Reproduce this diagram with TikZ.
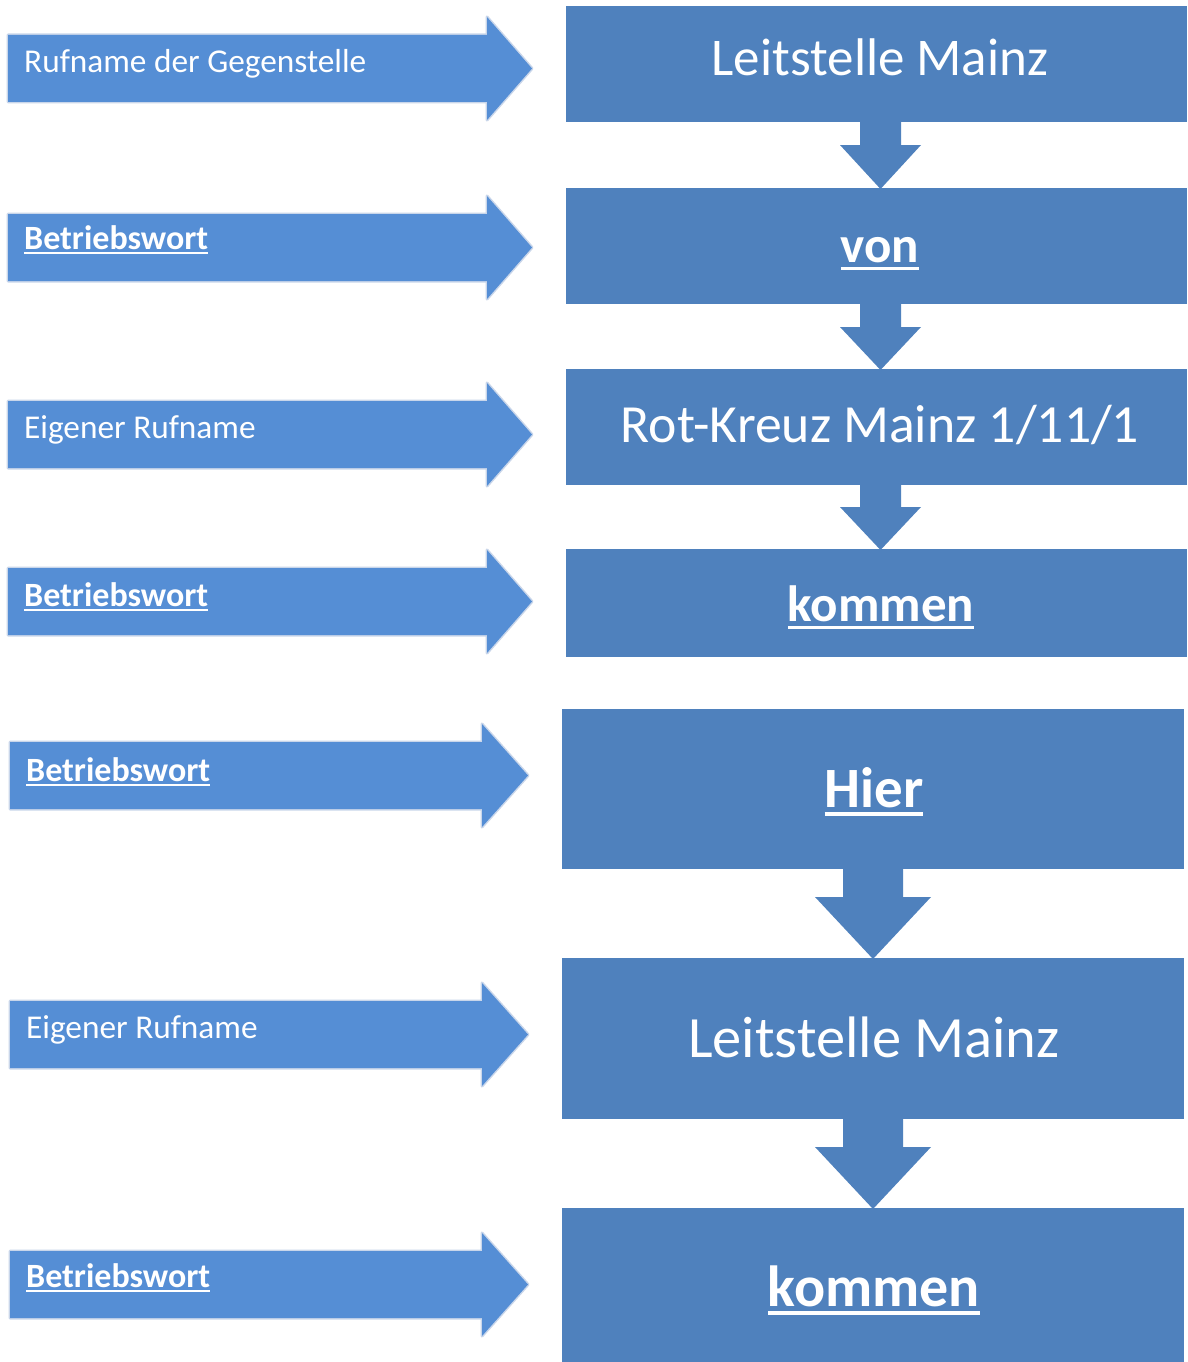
\documentclass[tikz,border=0pt]{standalone}
\usepackage{fontspec}
\setmainfont{Carlito}
\usetikzlibrary{calc}
\definecolor{boxblue}{HTML}{4F81BD}
\definecolor{arrblue}{HTML}{558ED5}
\definecolor{glow}{HTML}{C9D6EA}
\newcommand{\ulx}[1]{\setbox0\hbox{#1}\rlap{\rule[-0.15em]{\wd0}{0.06em}}\box0}
% left arrow: name, x0, ytop, xbase, xtip
\newcommand{\larr}[5]{%
  \coordinate (#1) at (#2,#3);
  \draw[glow,line width=3pt,line join=round,fill=arrblue] (#2,#3) -- (#4,#3) -- (#4,#3-18) -- (#5,#3+33.5) -- (#4,#3+85) -- (#4,#3+67) -- (#2,#3+67) -- cycle;
  \fill[arrblue] (#2,#3) -- (#4,#3) -- (#4,#3-18) -- (#5,#3+33.5) -- (#4,#3+85) -- (#4,#3+67) -- (#2,#3+67) -- cycle;}
% down arrow: from, to, xoffset, stem half, head half, head height
\newcommand{\dnarr}[6]{%
  \fill[boxblue] let \p1=([xshift=#3pt]#1.south), \p2=(#2.north) in
   (\x1-#4pt,\y1+1pt) -- (\x1+#4pt,\y1+1pt) -- (\x1+#4pt,\y2+#6pt) -- (\x1+#5pt,\y2+#6pt)
   -- (\x1,\y2-1pt) -- (\x1-#5pt,\y2+#6pt) -- (\x1-#4pt,\y2+#6pt) -- cycle;}
\tikzset{
  box/.style={rectangle,fill=boxblue,inner sep=0pt,outer sep=0pt,anchor=north west},
  btxt/.style={text=white,inner sep=0pt,anchor=base},
  ltxt/.style={text=white,inner sep=0pt,anchor=base west,font=\fontsize{33.3}{40}\selectfont},
  lbold/.style={ltxt,font=\fontsize{34}{40}\selectfont\bfseries},
}
\begin{document}
\begin{tikzpicture}[x=1pt,y=-1pt]
\useasboundingbox[fill=white] (0,0) rectangle (1187,1362);
% right boxes
\node[box,minimum width=621,minimum height=116] (b1) at (566,6) {};
\node[box,minimum width=621,minimum height=116] (b2) at (566,188) {};
\node[box,minimum width=621,minimum height=116] (b3) at (566,369) {};
\node[box,minimum width=621,minimum height=108] (b4) at (566,549) {};
\node[box,minimum width=622,minimum height=160] (b5) at (562,709) {};
\node[box,minimum width=622,minimum height=161] (b6) at (562,958) {};
\node[box,minimum width=622,minimum height=154] (b7) at (562,1208) {};
% box texts
\node[btxt,font=\fontsize{53}{64}\selectfont] (t1) at (880,76) {Leitstelle Mainz};
\node[btxt,font=\fontsize{51}{62}\selectfont\bfseries] (t2) at (880,262) {\ulx{von}};
\node[btxt,font=\fontsize{53.7}{64}\selectfont] (t3) at (880,442) {Rot-Kreuz Mainz 1/11/1};
\node[btxt,font=\fontsize{51}{62}\selectfont\bfseries] (t4) at (881,621) {\ulx{kommen}};
\node[btxt,font=\fontsize{57}{68}\selectfont\bfseries] (t5) at (874,807) {\ulx{Hier}};
\node[btxt,font=\fontsize{58.5}{70}\selectfont] (t6) at (874,1057) {Leitstelle Mainz};
\node[btxt,font=\fontsize{58}{70}\selectfont\bfseries] (t7) at (874,1306) {\ulx{kommen}};
% down arrows
\dnarr{b1}{b2}{4}{20.5}{40.5}{43}
\dnarr{b2}{b3}{4}{20.5}{40.5}{42}
\dnarr{b3}{b4}{4}{20.5}{40.5}{42}
\dnarr{b5}{b6}{0}{30}{58}{61}
\dnarr{b6}{b7}{0}{30}{58}{61}
% left arrows
\larr{a1}{8}{35}{487}{532}
\larr{a2}{8}{214}{487}{532}
\larr{a3}{8}{401}{487}{532}
\larr{a4}{8}{568}{487}{532}
\larr{a5}{10}{742}{482}{528}
\larr{a6}{10}{1001}{482}{528}
\larr{a7}{10}{1251}{482}{528}
% left texts
\node[ltxt] (l1) at (24,73) {Rufname der Gegenstelle};
\node[lbold] (l2) at (24,249) {\ulx{Betriebswort}};
\node[ltxt] (l3) at (24,438) {Eigener Rufname};
\node[lbold] (l4) at (24,606) {\ulx{Betriebswort}};
\node[lbold] (l5) at (26,781) {\ulx{Betriebswort}};
\node[ltxt] (l6) at (26,1038) {Eigener Rufname};
\node[lbold] (l7) at (26,1287) {\ulx{Betriebswort}};
\end{tikzpicture}
\end{document}
